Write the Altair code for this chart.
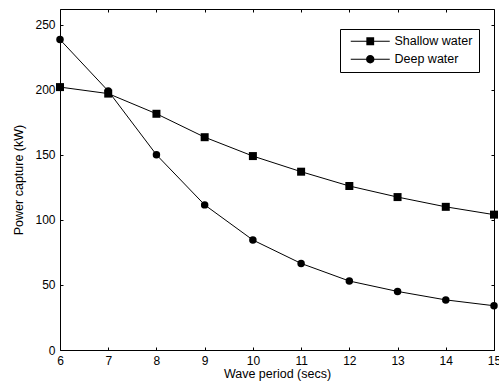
import altair as alt
import pandas as pd

periods = [6, 7, 8, 9, 10, 11, 12, 13, 14, 15]
shallow = [202, 197, 181.5, 163.5, 149, 137, 126, 117.5, 110, 104]
deep = [238.5, 199, 150, 111.5, 84.5, 66.5, 53, 45, 38.5, 34]
series_names = ["Shallow water", "Deep water"]

rows = []
for p, s, d in zip(periods, shallow, deep):
    rows.append({"period": p, "power": s, "series": series_names[0]})
    rows.append({"period": p, "power": d, "series": series_names[1]})
df = pd.DataFrame(rows)

FONT = "Liberation Sans"
xscale = alt.Scale(domain=[6, 15], nice=False)
yscale = alt.Scale(domain=[0, 262], nice=False)

x_bottom = alt.X("period:Q", scale=xscale, title="Wave period (secs)",
                 axis=alt.Axis(values=periods, tickSize=3, offset=-3, domain=False,
                               grid=False, labelPadding=5, titlePadding=1,
                               tickColor="black", labelColor="black", titleColor="black",
                               labelFont=FONT, titleFont=FONT, labelFontSize=12,
                               titleFontSize=12.5, titleFontWeight="normal", labelFlush=False))
y_left = alt.Y("power:Q", scale=yscale, title="Power capture (kW)",
               axis=alt.Axis(values=[0, 50, 100, 150, 200, 250], tickSize=3, offset=-3,
                             domain=False, grid=False, labelPadding=5, titlePadding=9,
                             tickColor="black", labelColor="black", titleColor="black",
                             labelFont=FONT, titleFont=FONT, labelFontSize=12,
                             titleFontSize=12.5, titleFontWeight="normal", labelFlush=False))

lines = alt.Chart(df).mark_line(color="black", strokeWidth=1).encode(
    x=x_bottom, y=y_left, detail="series:N"
)

x_top = alt.X("period:Q", scale=xscale, title=None,
              axis=alt.Axis(orient="top", values=periods, tickSize=3, offset=-3,
                            domain=False, grid=False, labels=False, tickColor="black"))
y_right = alt.Y("power:Q", scale=yscale, title=None,
                axis=alt.Axis(orient="right", values=[0, 50, 100, 150, 200, 250],
                              tickSize=3, offset=-3, domain=False, grid=False,
                              labels=False, tickColor="black"))

points = alt.Chart(df).mark_point(filled=True, color="black", opacity=1).encode(
    x=x_top, y=y_right,
    shape=alt.Shape("series:N", scale=alt.Scale(domain=series_names, range=["square", "circle"]),
                    legend=None),
    size=alt.Size("series:N", scale=alt.Scale(domain=series_names, range=[64, 56]), legend=None),
)

# legend glyphs: line segment with marker, drawn as filled shapes (units of 4 px)
sq_path = ("M-4.875,-0.125H-0.9V0.125H-4.875Z M0.9,-0.125H4.875V0.125H0.9Z "
           "M-0.975,-0.975H0.975V0.975H-0.975Z")
ci_path = ("M-4.875,-0.125H-0.9V0.125H-4.875Z M0.9,-0.125H4.875V0.125H0.9Z "
           "M1.05,0A1.05,1.05,0,1,1,-1.05,0A1.05,1.05,0,1,1,1.05,0Z")

legend_layer = alt.Chart(df).mark_point(filled=True, color="black", opacity=0).encode(
    x=alt.X("period:Q", scale=xscale, axis=None),
    y=alt.Y("power:Q", scale=yscale, axis=None),
    shape=alt.Shape("series:N", scale=alt.Scale(domain=series_names, range=[sq_path, ci_path]),
                    legend=alt.Legend(title=None, orient="none", legendX=280, legendY=20,
                                      strokeColor="black", fillColor="white", padding=6,
                                      cornerRadius=0, symbolSize=64, symbolOpacity=1,
                                      symbolFillColor="black", symbolStrokeWidth=0,
                                      symbolOffset=18,
                                      labelFont=FONT, labelFontSize=12.5,
                                      labelColor="black", labelOffset=18, rowPadding=5)),
)

chart = alt.layer(lines, points, legend_layer).resolve_axis(
    x="independent", y="independent"
).resolve_scale(shape="independent", size="independent").properties(
    width=434, height=341,
    padding={"left": 60, "top": 9, "right": 5, "bottom": 35},
    autosize=alt.AutoSizeParams(type="none"),
    background="white",
).configure_view(stroke="black", strokeWidth=1)

chart.save("out.html", embed_options={"renderer": "svg", "actions": False})
